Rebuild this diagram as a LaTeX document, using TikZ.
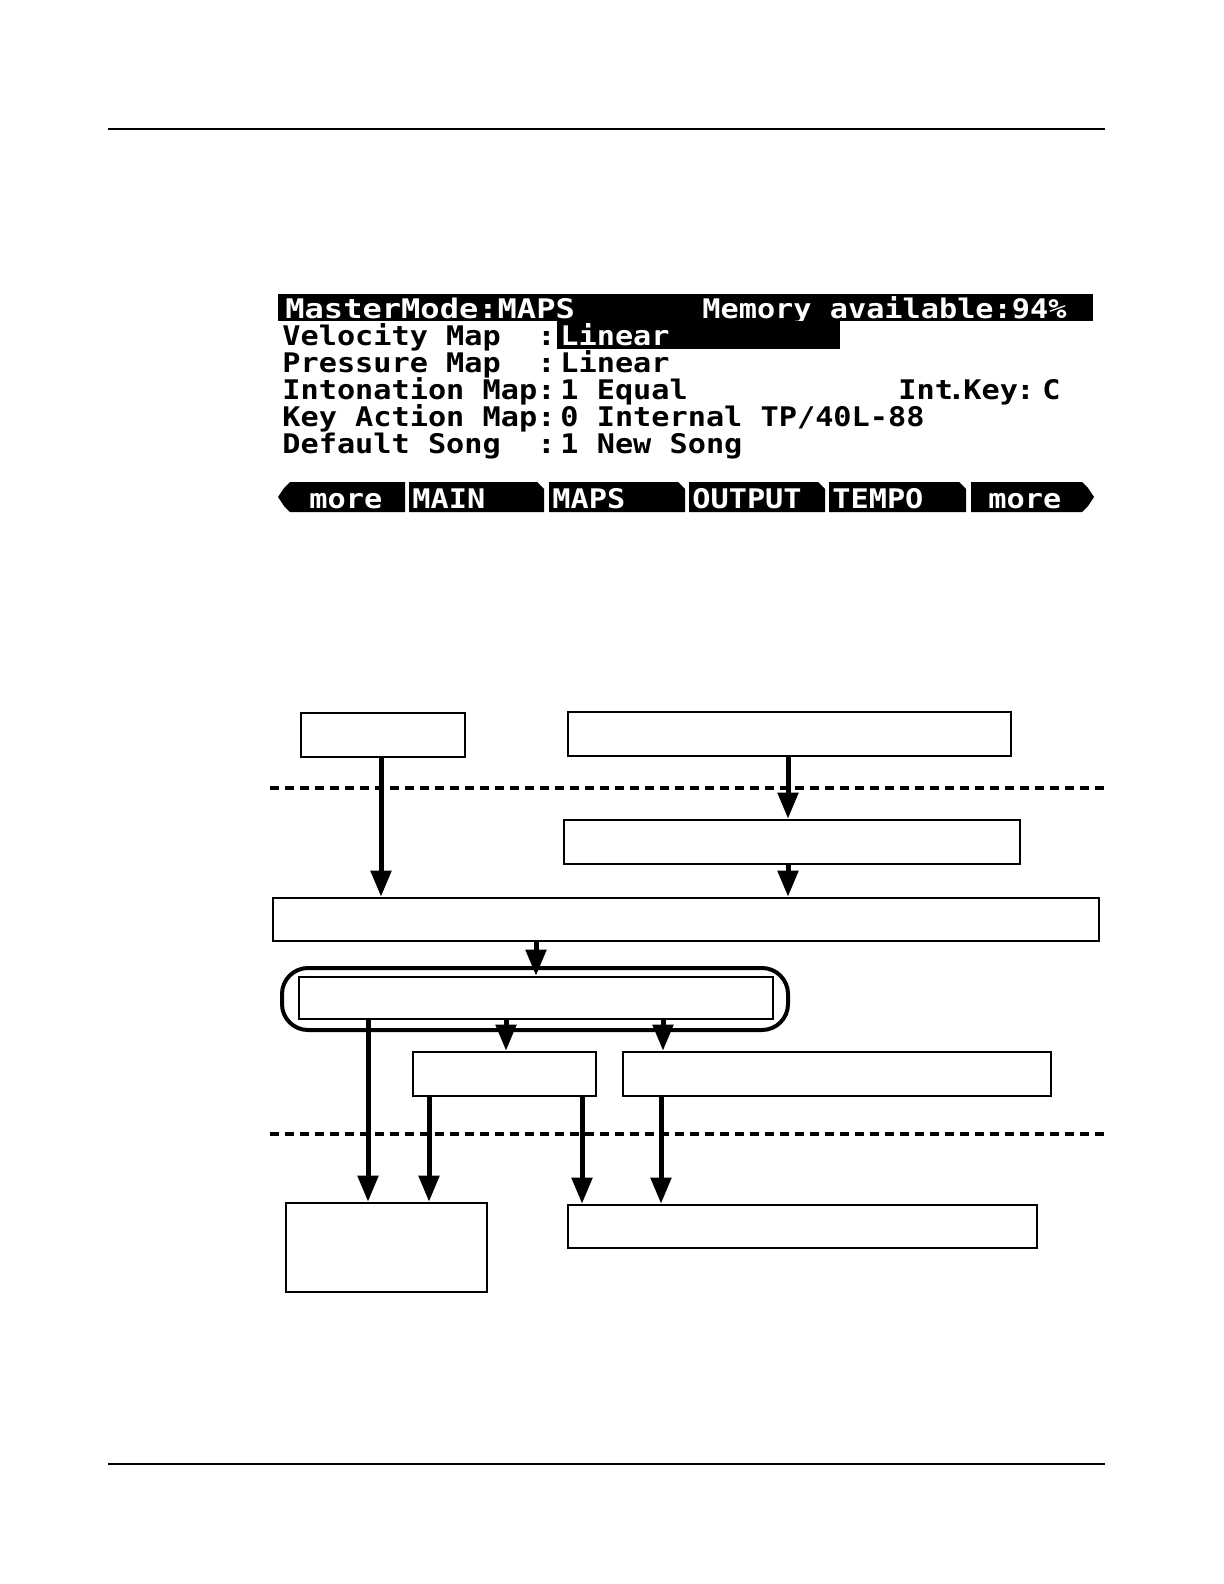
\documentclass[tikz,border=0pt]{standalone}
\usepackage{fontspec}
\newfontfamily\lcd[FakeStretch=1.12]{DejaVu Sans Mono}
\usetikzlibrary{arrows.meta,fit}
\tikzset{
  lcdtext/.style={font=\lcd\bfseries\fontsize{13.5}{14}\selectfont, inner sep=0pt, anchor=base west},
  inv/.style={lcdtext, text=white},
  box/.style={draw, line width=1.3pt, inner sep=0pt, fill=white},
  arr/.style={line width=2.5pt, -{Triangle[width=10pt,length=13pt]}},
  sepline/.style={line width=2pt, dash pattern=on 4.5pt off 3pt},
  rule/.style={line width=0.8pt},
}
\begin{document}
\begin{tikzpicture}[x=0.5pt,y=-0.5pt]
\useasboundingbox (0,0) rectangle (1224,1584);
% page rules
\draw[rule] (108,129) -- (1105,129);
\draw[rule] (108,1464) -- (1105,1464);

% ---------- LCD screen ----------
\fill (278,294) rectangle (1093,321);
\node[inv] (t1) at (285,318) {\scalebox{1.06}[1]{MasterMode:MAPS}};
\node[inv] (t2) at (702,318) {Memory available:94\%};
\fill (557,321) rectangle (840,349);
\node[lcdtext] (l1) at (282,345) {Velocity Map};
\node[lcdtext] (c1) at (537,345) {:};
\node[inv] (v1) at (560,345) {Linear};
\node[lcdtext] (l2) at (282,372) {Pressure Map};
\node[lcdtext] (c2) at (537,372) {:};
\node[lcdtext] (v2) at (560,372) {Linear};
\node[lcdtext] (l3) at (282,399) {Intonation Map};
\node[lcdtext] (c3) at (537,399) {:};
\node[lcdtext] (v3) at (560,399) {1 Equal};
\node[lcdtext] (k1) at (898,399) {Int};
\node[lcdtext] (k2) at (947,399) {.};
\node[lcdtext] (k3) at (963,399) {Key};
\node[lcdtext] (k4) at (1016,399) {:};
\node[lcdtext] (k5) at (1042,399) {C};
\node[lcdtext] (l4) at (282,426) {Key Action Map};
\node[lcdtext] (c4) at (537,426) {:};
\node[lcdtext] (v4) at (560,426) {0 Internal TP/40L-88};
\node[lcdtext] (l5) at (282,453) {Default Song};
\node[lcdtext] (c5) at (537,453) {:};
\node[lcdtext] (v5) at (560,453) {1 New Song};

% soft buttons
\fill (278,497) -- (284,488) -- (290,482) -- (405,482) -- (405,512) -- (290,512) -- (284,506) -- cycle;
\fill (409,482) -- (537,482) -- (544,489) -- (544,512) -- (409,512) -- cycle;
\fill (549,482) -- (678,482) -- (685,489) -- (685,512) -- (549,512) -- cycle;
\fill (689,482) -- (818,482) -- (825,489) -- (825,512) -- (689,512) -- cycle;
\fill (829,482) -- (959,482) -- (966,489) -- (966,512) -- (829,512) -- cycle;
\fill (971,482) -- (1082,482) -- (1088,488) -- (1094,497) -- (1088,506) -- (1082,512) -- (971,512) -- cycle;
\node[inv] (s1) at (309,508) {more};
\node[inv] (s2) at (412,508) {MAIN};
\node[inv] (s3) at (552,508) {MAPS};
\node[inv] (s4) at (692,508) {OUTPUT};
\node[inv] (s5) at (832,508) {TEMPO};
\node[inv] (s6) at (988,508) {more};

% ---------- flow chart ----------
\draw[sepline] (270,788) -- (1105,788);
\draw[sepline] (270,1134) -- (1105,1134);

\node[box, fit={(301,713) (465,757)}] (A) {};
\node[box, fit={(568,712) (1011,756)}] (B) {};
\node[box, fit={(564,820) (1020,864)}] (C) {};
\node[box, fit={(273,898) (1099,941)}] (D) {};
\draw[line width=2pt, rounded corners=13pt, fill=white] (282,968) rectangle (788,1030);
\node[box, fit={(299,977) (773,1019)}] (E) {};
\node[box, fit={(413,1052) (596,1096)}] (F) {};
\node[box, fit={(623,1052) (1051,1096)}] (H) {};
\node[box, fit={(286,1203) (487,1292)}] (G) {};
\node[box, fit={(568,1205) (1037,1248)}] (I) {};

\coordinate (xa) at (381,0);
\coordinate (xb) at (788,0);
\coordinate (xe) at (536,0);
\coordinate (xg1) at (368,0);
\coordinate (xf) at (506,0);
\coordinate (xh) at (663,0);
\coordinate (xg2) at (429,0);
\coordinate (xi1) at (582,0);
\coordinate (xi2) at (661,0);

\draw[arr] (A.south -| xa) -- (D.north -| xa);
\draw[arr] (B.south -| xb) -- (C.north -| xb);
\draw[arr] (C.south -| xb) -- (D.north -| xb);
\draw[arr] (D.south -| xe) -- (E.north -| xe);
\draw[arr] (E.south -| xg1) -- (G.north -| xg1);
\draw[arr] (E.south -| xf) -- (F.north -| xf);
\draw[arr] (E.south -| xh) -- (H.north -| xh);
\draw[arr] (F.south -| xg2) -- (G.north -| xg2);
\draw[arr] (F.south -| xi1) -- (I.north -| xi1);
\draw[arr] (H.south -| xi2) -- (I.north -| xi2);
\end{tikzpicture}
\end{document}
